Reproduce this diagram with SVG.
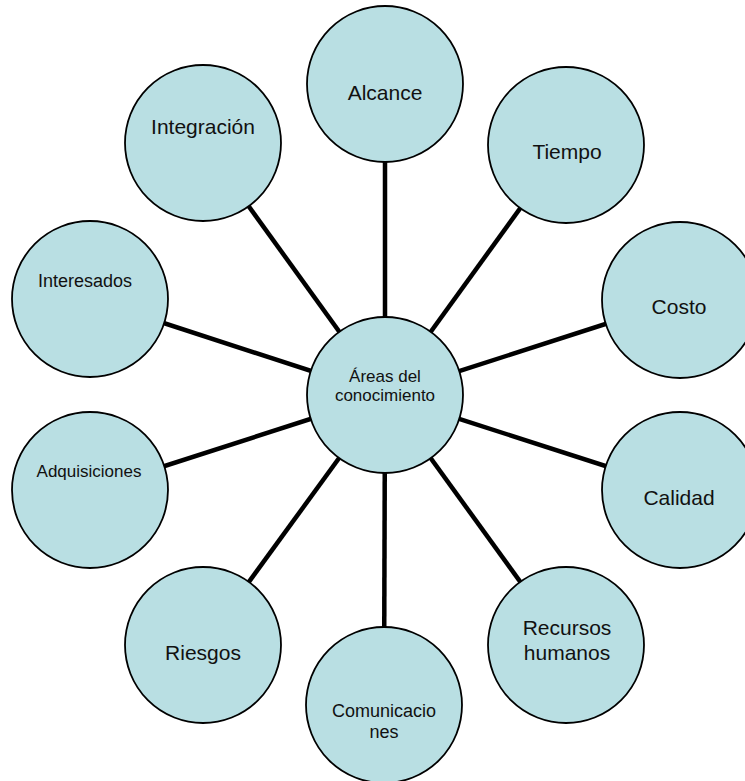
<svg xmlns="http://www.w3.org/2000/svg" width="745" height="781" viewBox="0 0 745 781">
<style>
.n{fill:#B9DFE3;stroke:#000;stroke-width:1.8}
.c line{stroke:#000;stroke-width:4.5}
text{font-family:"Liberation Sans",Arial,sans-serif;fill:#111;text-anchor:middle}
.l{font-size:21px}
.s{font-size:17px}
.m{font-size:18px}
</style>
<rect width="745" height="781" fill="#fff"/>
<g id="connectors" class="c">
<line x1="385" y1="395" x2="385" y2="84"/>
<line x1="385" y1="395" x2="566" y2="145"/>
<line x1="385" y1="395" x2="680" y2="300"/>
<line x1="385" y1="395" x2="680" y2="490"/>
<line x1="385" y1="395" x2="566" y2="645"/>
<line x1="385" y1="395" x2="384" y2="705"/>
<line x1="385" y1="395" x2="203" y2="645"/>
<line x1="385" y1="395" x2="90" y2="490"/>
<line x1="385" y1="395" x2="90" y2="299"/>
<line x1="385" y1="395" x2="203" y2="143"/>
</g>
<g id="center"><circle class="n" cx="385" cy="395" r="78"/><text class="s" x="385" y="382">Áreas del</text><text class="s" x="385" y="401">conocimiento</text></g>
<g id="alcance"><circle class="n" cx="385" cy="84" r="78"/><text class="l" x="385" y="100">Alcance</text></g>
<g id="tiempo"><circle class="n" cx="566" cy="145" r="78"/><text class="l" x="567" y="159">Tiempo</text></g>
<g id="costo"><circle class="n" cx="680" cy="300" r="78"/><text class="l" x="679" y="314">Costo</text></g>
<g id="calidad"><circle class="n" cx="680" cy="490" r="78"/><text class="l" x="679" y="505">Calidad</text></g>
<g id="recursos"><circle class="n" cx="566" cy="645" r="78"/><text class="l" x="567" y="635">Recursos</text><text class="l" x="567" y="660">humanos</text></g>
<g id="comunicaciones"><circle class="n" cx="384" cy="705" r="78"/><text class="m" x="384" y="717">Comunicacio</text><text class="m" x="384" y="738">nes</text></g>
<g id="riesgos"><circle class="n" cx="203" cy="645" r="78"/><text class="l" x="203" y="660">Riesgos</text></g>
<g id="adquisiciones"><circle class="n" cx="90" cy="490" r="78"/><text class="s" x="89" y="477">Adquisiciones</text></g>
<g id="interesados"><circle class="n" cx="90" cy="299" r="78"/><text class="m" x="85" y="287">Interesados</text></g>
<g id="integracion"><circle class="n" cx="203" cy="143" r="78"/><text class="l" x="203" y="134">Integración</text></g>
</svg>
